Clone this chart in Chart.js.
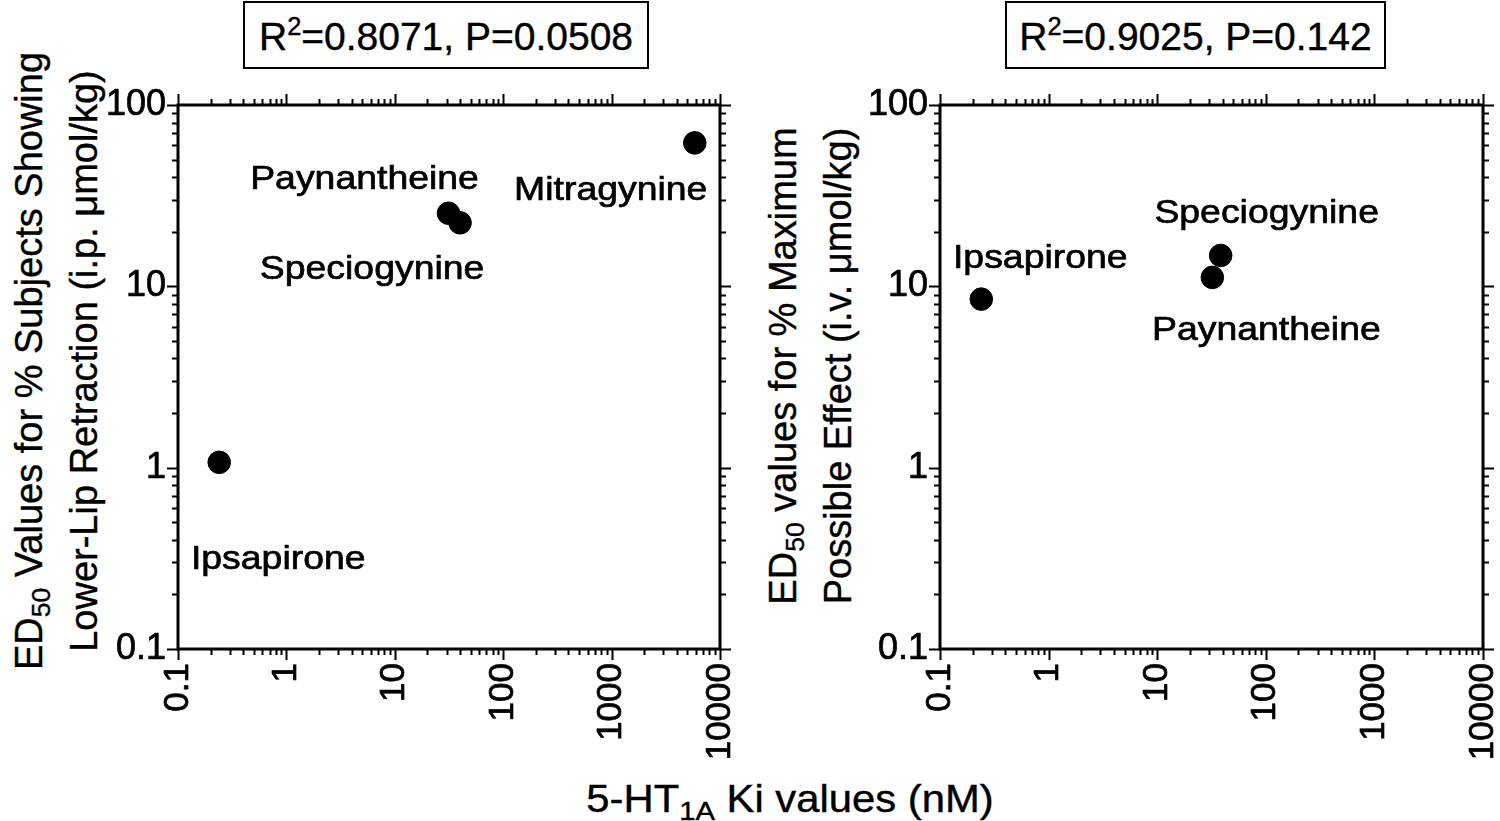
<!DOCTYPE html>
<html>
<head>
<meta charset="utf-8">
<script src="https://cdn.jsdelivr.net/npm/chart.js@4"></script>
<style>
  body { margin: 0; background: #fff; }
  #wrap { position: relative; width: 1500px; height: 821px; overflow: hidden; font-family: "Liberation Sans", Arial, sans-serif; color: #000; -webkit-text-stroke: 0.4px #000; }
  canvas { position: absolute; }
  .box { position: absolute; top: 1px; height: 68px; border: 2.5px solid #000; box-sizing: border-box; display: flex; align-items: center; justify-content: center; padding-top: 3px; }
  .box span { font-size: 39px; white-space: nowrap; }
  .ytitle { position: absolute; width: 720px; height: 110px; line-height: 55px; font-size: 38px; text-align: center; transform: rotate(-90deg); white-space: nowrap; }
  .xtitle { position: absolute; left: 390px; top: 776px; width: 800px; text-align: center; font-size: 38px; line-height: 46px; transform: scaleX(1.1); white-space: nowrap; }
  sub { font-size: 0.7em; line-height: 0; vertical-align: -0.3em; }
  sup { font-size: 0.65em; line-height: 0; vertical-align: 0.6em; }
</style>
</head>
<body>
<div id="wrap">
  <div class="box" style="left:243px; width:406px;"><span>R<sup>2</sup>=0.8071, P=0.0508</span></div>
  <div class="box" style="left:1005px; width:381px;"><span>R<sup>2</sup>=0.9025, P=0.142</span></div>

  <div class="ytitle" style="left:-303px; top:306px;">ED<sub>50</sub> Values for % Subjects Showing<br>Lower-Lip Retraction (i.p. μmol/kg)</div>
  <div class="ytitle" style="left:451px; top:311px;">ED<sub>50</sub> values for % Maximum<br>Possible Effect (i.v. μmol/kg)</div>
  <div class="xtitle">5-HT<sub>1A</sub> Ki values (nM)</div>

  <canvas id="leftChart" width="650" height="700" style="left:100px; top:80px;"></canvas>
  <canvas id="rightChart" width="640" height="700" style="left:860px; top:80px;"></canvas>
</div>

<script>
// axis ticks (log decades)
const xTicks = [0.1, 1, 10, 100, 1000, 10000];
const yTicks = [0.1, 1, 10, 100];

// left panel: lower-lip retraction (i.p.)
const namesLeft = ['Ipsapirone', 'Paynantheine', 'Speciogynine', 'Mitragynine'];
const kiLeft = [0.24, 31.3, 40, 5850];
const ed50Left = [1.07, 25.3, 22.4, 61.8];

// right panel: % maximum possible effect (i.v.)
const namesRight = ['Ipsapirone', 'Paynantheine', 'Speciogynine'];
const kiRight = [0.24, 32.2, 38.4];
const ed50Right = [8.5, 11.2, 14.8];

// label placement relative to each dot (pixels)
const offsetsLeft = [[59, 97], [-84, -34], [-88, 47], [-84, 48]];
const offsetsRight = [[59, -41], [54, 53], [46, -42]];

const FONT = '"Liberation Sans", Arial, sans-serif';
Chart.defaults.font.family = FONT;
Chart.defaults.color = '#000';

// minor + major tick marks on all four sides, plus the frame
const frame = {
  id: 'frame',
  afterDraw(chart) {
    const { ctx, chartArea: a, scales } = chart;
    const x = scales.x, y = scales.y;
    const marks = (decades) => {
      const out = [];
      decades.forEach((d, i) => {
        out.push({ v: d, major: true });
        if (i < decades.length - 1) {
          for (let k = 2; k <= 9; k++) out.push({ v: d * k, major: false });
        }
      });
      return out;
    };
    ctx.save();
    ctx.strokeStyle = '#000';
    ctx.lineWidth = 2;
    ctx.beginPath();
    marks(xTicks).forEach(t => {
      const px = Math.round(x.getPixelForValue(t.v)) + 0.5;
      const len = t.major ? 11 : 6;
      ctx.moveTo(px, a.bottom); ctx.lineTo(px, a.bottom + len);
      ctx.moveTo(px, a.top); ctx.lineTo(px, a.top - len);
    });
    marks(yTicks).forEach(t => {
      const py = Math.round(y.getPixelForValue(t.v)) + 0.5;
      const len = t.major ? 11 : 6;
      ctx.moveTo(a.left, py); ctx.lineTo(a.left - len, py);
      ctx.moveTo(a.right, py); ctx.lineTo(a.right + len, py);
    });
    ctx.stroke();
    ctx.lineWidth = 3;
    ctx.strokeRect(a.left, a.top, a.right - a.left, a.bottom - a.top);
    ctx.restore();
  }
};

// compound names next to the dots
const pointLabels = {
  id: 'pointLabels',
  afterDatasetsDraw(chart, args, opts) {
    const ctx = chart.ctx;
    const pts = chart.getDatasetMeta(0).data;
    ctx.save();
    ctx.fillStyle = '#000';
    ctx.strokeStyle = '#000';
    ctx.lineWidth = 0.7;
    ctx.font = '34px ' + FONT;
    ctx.textAlign = 'center';
    ctx.textBaseline = 'middle';
    pts.forEach((p, i) => {
      const off = opts.offsets[i];
      ctx.save();
      ctx.translate(p.x + off[0], p.y + off[1]);
      ctx.scale(1.1, 1);
      ctx.fillText(opts.names[i], 0, 0);
      ctx.strokeText(opts.names[i], 0, 0);
      ctx.restore();
    });
    ctx.restore();
  }
};

function makeChart(id, names, xs, ys, offsets, yWidth, padRight) {
  const ctx = document.getElementById(id).getContext('2d');
  return new Chart(ctx, {
    type: 'scatter',
    data: {
      datasets: [
        {
          data: xs.map((v, i) => ({ x: v, y: ys[i] })),
          backgroundColor: '#000',
          borderColor: '#000',
          pointRadius: 11.3,
          pointHoverRadius: 11.3,
        },
      ],
    },
    options: {
      responsive: false,
      animation: false,
      events: [],
      layout: { padding: { top: 25, right: padRight, left: 0, bottom: 0 } },
      plugins: {
        legend: { display: false },
        tooltip: { enabled: false },
        pointLabels: { names: names, offsets: offsets },
      },
      scales: {
        x: {
          type: 'logarithmic',
          min: 0.1,
          max: 10000,
          afterBuildTicks: (s) => { s.ticks = xTicks.map(v => ({ value: v })); },
          afterFit: (s) => { s.height = 131; s.paddingLeft = 0; s.paddingRight = 0; },
          grid: { display: false, drawTicks: false },
          border: { display: false },
          ticks: {
            autoSkip: false,
            minRotation: 90,
            maxRotation: 90,
            padding: 14,
            color: '#000',
            textStrokeColor: '#000',
            textStrokeWidth: 0.7,
            font: { size: 35 },
            callback: (v) => String(v),
          },
        },
        y: {
          type: 'logarithmic',
          min: 0.1,
          max: 100,
          afterBuildTicks: (s) => { s.ticks = yTicks.map(v => ({ value: v })); },
          afterFit: (s) => { s.width = yWidth; s.paddingTop = 0; s.paddingBottom = 0; },
          grid: { display: false, drawTicks: false },
          border: { display: false },
          ticks: {
            autoSkip: false,
            padding: 12,
            color: '#000',
            textStrokeColor: '#000',
            textStrokeWidth: 0.7,
            font: { size: 36 },
            callback: (v) => String(v),
          },
        },
      },
    },
    plugins: [frame, pointLabels],
  });
}

makeChart('leftChart', namesLeft, kiLeft, ed50Left, offsetsLeft, 78, 30);
makeChart('rightChart', namesRight, kiRight, ed50Right, offsetsRight, 80, 17);
</script>
</body>
</html>
